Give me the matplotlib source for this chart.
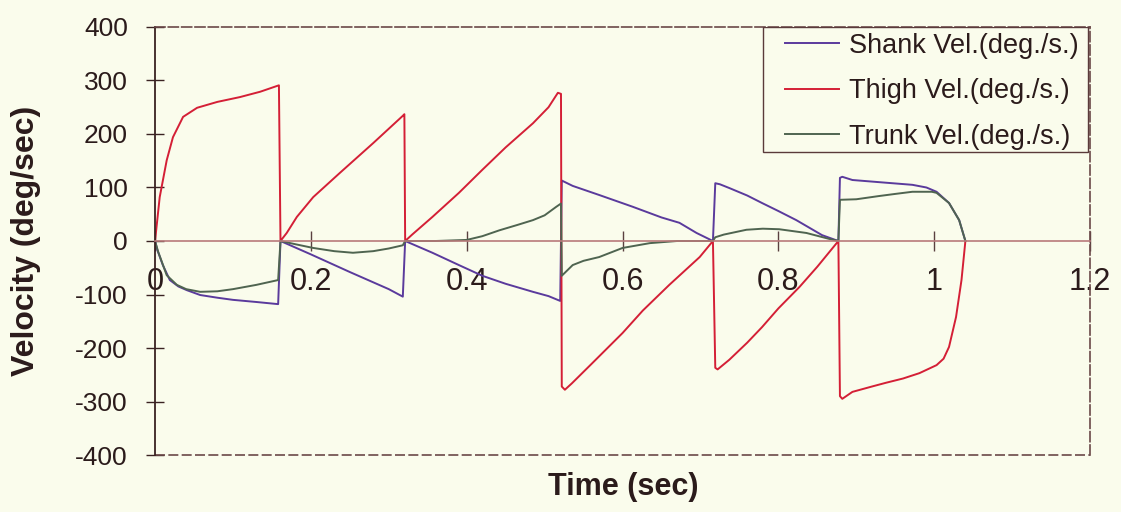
import matplotlib
matplotlib.use('Agg')
import matplotlib.pyplot as plt
from matplotlib.patches import Rectangle

plt.rcParams['font.family'] = ['Liberation Sans', 'DejaVu Sans']
plt.rcParams['axes.unicode_minus'] = False

# ---------- 数据：三段角速度（deg/s）----------
shank_t = [0, 0.003, 0.01, 0.019, 0.03, 0.041, 0.058, 0.08, 0.1, 0.13, 0.158, 0.161,
           0.2, 0.25, 0.3, 0.318, 0.321,
           0.356, 0.39, 0.42, 0.45, 0.485, 0.505, 0.52, 0.522,
           0.536, 0.57, 0.613, 0.65, 0.673, 0.695, 0.716,
           0.719, 0.725, 0.737, 0.76, 0.779, 0.8, 0.823, 0.856, 0.877,
           0.879, 0.882, 0.895, 0.929, 0.972, 0.99, 1.003, 1.019, 1.032, 1.04]
shank_v = [0, -17, -45, -73, -85, -92, -101, -106, -110, -114, -118, 0,
           -25, -58, -90, -104, 0,
           -22, -45, -65, -80, -95, -103, -112, 113,
           103, 86, 64, 44, 34, 15, 0,
           108, 106, 99, 85, 71, 56, 39, 11, 0,
           118, 120, 114, 110, 105, 100, 92, 71, 39, 0]

thigh_t = [0, 0.006, 0.015, 0.023, 0.036, 0.054, 0.08, 0.109, 0.135, 0.159, 0.161,
           0.169, 0.182, 0.203, 0.237, 0.28, 0.318, 0.320, 0.321,
           0.33, 0.356, 0.39, 0.42, 0.45, 0.485, 0.505, 0.517, 0.521, 0.522,
           0.526, 0.535, 0.56, 0.6, 0.626, 0.66, 0.699, 0.716,
           0.719, 0.722, 0.737, 0.76, 0.779, 0.8, 0.827, 0.85, 0.877,
           0.879, 0.882, 0.895, 0.92, 0.938, 0.96, 0.981, 1.003, 1.012, 1.019, 1.028, 1.035, 1.04]
thigh_v = [0, 82, 151, 194, 232, 249, 260, 269, 279, 291, 0,
           15, 45, 82, 127, 183, 234, 237, 0,
           12, 45, 90, 133, 175, 220, 250, 277, 275, -272,
           -278, -266, -230, -172, -130, -82, -30, 0,
           -237, -240, -222, -190, -161, -126, -86, -48, 0,
           -290, -295, -282, -272, -265, -257, -247, -232, -220, -198, -142, -73, 0]

trunk_t = [0, 0.004, 0.015, 0.028, 0.04, 0.058, 0.08, 0.1, 0.13, 0.158, 0.161,
           0.18, 0.203, 0.23, 0.254, 0.28, 0.3, 0.318, 0.321,
           0.36, 0.4, 0.42, 0.442, 0.465, 0.485, 0.5, 0.515, 0.521, 0.522,
           0.536, 0.55, 0.57, 0.6, 0.635, 0.67, 0.716,
           0.719, 0.73, 0.759, 0.78, 0.801, 0.836, 0.865, 0.877,
           0.879, 0.9, 0.929, 0.95, 0.972, 0.997, 1.003, 1.019, 1.032, 1.04]
trunk_v = [0, -20, -64, -82, -90, -95, -94, -90, -82, -73, 0,
           -6, -13, -19, -22, -19, -14, -8, 0,
           0, 2, 9, 20, 30, 39, 48, 64, 70, -65,
           -45, -37, -30, -13, -4, 0, 0,
           7, 12, 21, 23, 22, 15, 4, 0,
           77, 78, 84, 88, 92, 92, 90, 71, 39, 0]

labels = ['Shank Vel.(deg./s.)', 'Thigh Vel.(deg./s.)', 'Trunk Vel.(deg./s.)']
x_ticks = [0, 0.2, 0.4, 0.6, 0.8, 1.0, 1.2]
x_tick_labels = ['0', '0.2', '0.4', '0.6', '0.8', '1', '1.2']
y_ticks = [-400, -300, -200, -100, 0, 100, 200, 300, 400]

bg = '#fafcec'
ink = '#2b1b1b'
frame_c = '#6a4848'

fig = plt.figure(figsize=(11.21, 5.12), dpi=100, facecolor=bg)
ax = fig.add_axes([0.1383, 0.1113, 0.8341, 0.836], facecolor=bg)

ax.plot(shank_t, shank_v, color='#5a3a9c', lw=1.4, label=labels[0])
ax.plot(thigh_t, thigh_v, color='#d41f36', lw=1.4, label=labels[1])
ax.plot(trunk_t, trunk_v, color='#4f6450', lw=1.4, label=labels[2])

ax.set_xlim(0, 1.2)
ax.set_ylim(-400, 400)

# 横轴放在 y=0 处，外框用虚线
ax.spines['bottom'].set_position(('data', 0))
ax.spines['bottom'].set_color('#b87a7a')
ax.spines['bottom'].set_linewidth(1.2)
ax.spines['left'].set_color('#3a2222')
ax.spines['left'].set_linewidth(1.3)
for s in ['top', 'right']:
    ax.spines[s].set_color(frame_c)
    ax.spines[s].set_linestyle((0, (6, 2)))
    ax.spines[s].set_linewidth(1.2)
ax.axhline(-400, color=frame_c, lw=1.2, ls=(0, (6, 2)), clip_on=False)

ax.set_xticks(x_ticks)
ax.set_xticklabels(x_tick_labels)
ax.set_yticks(y_ticks)
ax.tick_params(axis='x', direction='inout', length=14, width=1, color='#5a4040',
               pad=12, labelsize=22, labelcolor=ink)
ax.tick_params(axis='y', direction='inout', length=13, width=1, color='#3a2222',
               pad=13, labelsize=19, labelcolor=ink)

# 图例：左侧留白比右侧宽，边框单独画
leg = ax.legend(loc='upper left', bbox_to_anchor=(0.674, 0.986), borderaxespad=0,
                fontsize=19.5, frameon=False, handlelength=2.0,
                handletextpad=0.35, labelspacing=0.72, borderpad=0)
for t in leg.get_texts():
    t.set_color(ink)
ax.add_patch(Rectangle((0.650, 0.708), 0.348, 0.292, transform=ax.transAxes,
                       facecolor=bg, edgecolor='#5a3a3a', lw=1.0, zorder=4.5))

fig.text(0.5557, 0.0488, 'Time (sec)', ha='center', va='center',
         fontsize=22, fontweight='bold', color=ink)
fig.text(0.0232, 1 - 241 / 512, 'Velocity (deg/sec)', ha='center', va='center',
         rotation=90, fontsize=23, fontweight='bold', color=ink)

fig.savefig('out.png', dpi=100, facecolor=bg)
